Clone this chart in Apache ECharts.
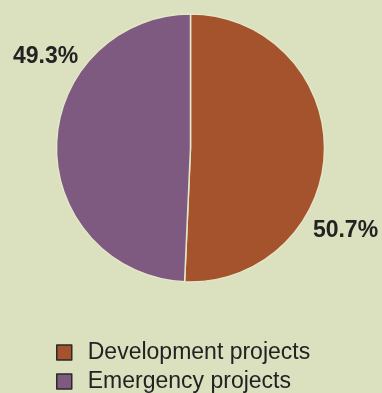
<!DOCTYPE html>
<html><head><meta charset="utf-8">
<script src="https://cdn.jsdelivr.net/npm/echarts@6/dist/echarts.min.js"></script>
<style>html,body{margin:0;padding:0;background:#dbe0bf;}#c{width:382px;height:393px;}</style>
</head><body><div id="c"></div>
<script>
const categories = ["Development projects", "Emergency projects"];
const values = [50.7, 49.3];
const labels = ["50.7%", "49.3%"];
const colors = ["#a5532d", "#7f5a80"];

const chart = echarts.init(document.getElementById('c'), null, {renderer: 'canvas'});
const labelOffsets = [[85, 81], [-75, -89.5]];
chart.setOption({
  backgroundColor: '#dbe0bf',
  animation: false,
  legend: {
    orient: 'vertical',
    left: 51, top: 336, height: 60,
    itemWidth: 15, itemHeight: 15, itemGap: 6,
    icon: 'rect',
    itemStyle: {borderColor: '#2a2a2a', borderWidth: 1.5},
    textStyle: {fontFamily: 'Liberation Sans, Arial, sans-serif', fontSize: 23, color: '#222', padding: [0, 0, 0, 11]},
    data: categories
  },
  series: [{
    type: 'pie',
    center: [190.5, 148],
    radius: [0, 134],
    startAngle: 90,
    clockwise: true,
    itemStyle: {borderColor: '#e3e6c8', borderWidth: 1.5},
    label: {
      show: true, position: 'inside',
      formatter: p => labels[p.dataIndex],
      fontFamily: 'Liberation Sans, Arial, sans-serif',
      fontWeight: 'bold', fontSize: 23, color: '#222'
    },
    labelLine: {show: false},
    emphasis: {disabled: true},
    data: categories.map((c, i) => ({name: c, value: values[i], itemStyle: {color: colors[i]}, label: {offset: labelOffsets[i]}}))
  }]
});
</script></body></html>
